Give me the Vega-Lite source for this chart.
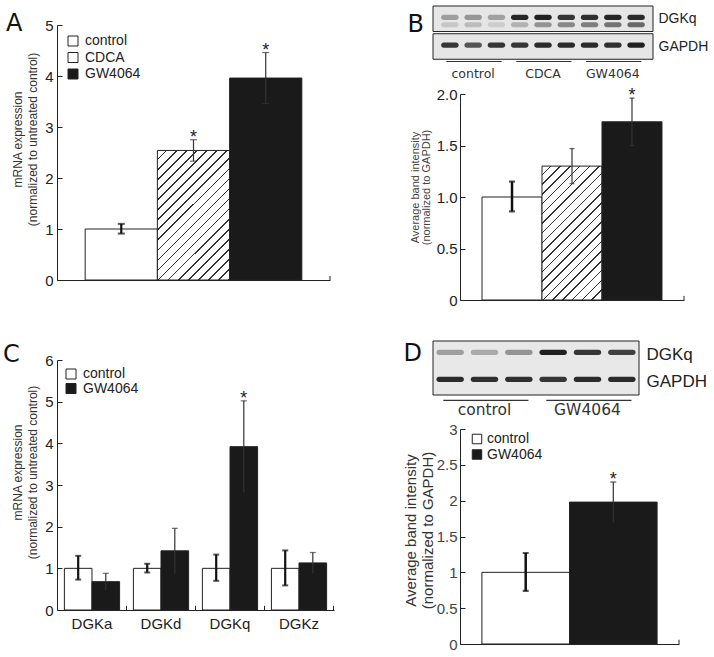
{
  "$schema": "https://vega.github.io/schema/vega-lite/v6.json",
  "padding": {"left": 3, "top": 5, "right": 2, "bottom": 2},
  "config": {
    "view": {"stroke": null},
    "font": "Liberation Sans",
    "axis": {"grid": false, "domainColor": "#222", "tickColor": "#222", "labelColor": "#222", "titleColor": "#333", "titleFontWeight": "normal", "labelFont": "Liberation Sans", "titleFont": "Liberation Sans", "labelOverlap": false},
    "title": {"font": "DejaVu Sans", "fontWeight": "normal", "color": "#111", "fontSize": 24}
  },
  "resolve": {"scale": {"fill": "independent", "opacity": "independent"}, "legend": {"fill": "independent"}},
  "spacing": 68,
  "hconcat": [
    {
      "spacing": 55,
      "resolve": {"scale": {"fill": "independent", "opacity": "independent"}, "legend": {"fill": "independent"}},
      "vconcat": [
        {
          "spacing": 0,
          "resolve": {"scale": {"fill": "independent"}, "legend": {"fill": "independent"}},
          "vconcat": [
            {"width": 1, "height": 6, "data": {"values": []}, "mark": "point"},
            {
              "width": 273, "height": 255,
              "title": {"text": "A", "orient": "top", "anchor": "start", "frame": "group", "dx": -51, "dy": 18, "align": "left", "offset": 0},
              "data": {"values": [
                {"t": "control", "v": 1.0, "lo": 0.91, "hi": 1.1, "sig": ""},
                {"t": "CDCA", "v": 2.54, "lo": 2.33, "hi": 2.75, "sig": "*"},
                {"t": "GW4064", "v": 3.96, "lo": 3.46, "hi": 4.46, "sig": "*"}
              ]},
              "encoding": {"x": {"field": "t", "type": "nominal", "sort": null, "scale": {"domain": ["control", "CDCA", "GW4064"], "paddingInner": 0, "paddingOuter": 0.39}, "axis": {"title": null, "labels": false, "ticks": false}}},
              "layer": [
                {"mark": {"type": "bar", "stroke": "#222", "strokeWidth": 1},
                 "encoding": {
                   "y": {"field": "v", "type": "quantitative", "stack": null, "scale": {"domain": [0, 5], "nice": false},
                         "axis": {"values": [0, 1, 2, 3, 4, 5], "format": "d", "tickSize": -5, "labelPadding": 9, "labelFontSize": 15, "labelOverlap": false,
                                  "title": ["mRNA expression", "(normalized to untreated control)"], "titleFontSize": 12, "titleLineHeight": 15, "titlePadding": 5, "titleY": 114}},
                   "fill": {"field": "t", "type": "nominal",
                            "scale": {"domain": ["control", "CDCA", "GW4064"], "range": ["white", "white", "#1a1a1a"]},
                            "condition": {"test": "datum.t === 'CDCA'", "value": {"gradient": "linear", "x1": 0, "y1": 0, "x2": 0.661, "y2": 1.188, "stops": [{"offset":0,"color":"#fff"},{"offset":0.042,"color":"#fff"},{"offset":0.042,"color":"#333"},{"offset":0.05,"color":"#333"},{"offset":0.05,"color":"#fff"},{"offset":0.092,"color":"#fff"},{"offset":0.092,"color":"#333"},{"offset":0.1,"color":"#333"},{"offset":0.1,"color":"#fff"},{"offset":0.142,"color":"#fff"},{"offset":0.142,"color":"#333"},{"offset":0.15,"color":"#333"},{"offset":0.15,"color":"#fff"},{"offset":0.192,"color":"#fff"},{"offset":0.192,"color":"#333"},{"offset":0.2,"color":"#333"},{"offset":0.2,"color":"#fff"},{"offset":0.242,"color":"#fff"},{"offset":0.242,"color":"#333"},{"offset":0.25,"color":"#333"},{"offset":0.25,"color":"#fff"},{"offset":0.292,"color":"#fff"},{"offset":0.292,"color":"#333"},{"offset":0.3,"color":"#333"},{"offset":0.3,"color":"#fff"},{"offset":0.342,"color":"#fff"},{"offset":0.342,"color":"#333"},{"offset":0.35,"color":"#333"},{"offset":0.35,"color":"#fff"},{"offset":0.392,"color":"#fff"},{"offset":0.392,"color":"#333"},{"offset":0.4,"color":"#333"},{"offset":0.4,"color":"#fff"},{"offset":0.442,"color":"#fff"},{"offset":0.442,"color":"#333"},{"offset":0.45,"color":"#333"},{"offset":0.45,"color":"#fff"},{"offset":0.492,"color":"#fff"},{"offset":0.492,"color":"#333"},{"offset":0.5,"color":"#333"},{"offset":0.5,"color":"#fff"},{"offset":0.542,"color":"#fff"},{"offset":0.542,"color":"#333"},{"offset":0.55,"color":"#333"},{"offset":0.55,"color":"#fff"},{"offset":0.592,"color":"#fff"},{"offset":0.592,"color":"#333"},{"offset":0.6,"color":"#333"},{"offset":0.6,"color":"#fff"},{"offset":0.642,"color":"#fff"},{"offset":0.642,"color":"#333"},{"offset":0.65,"color":"#333"},{"offset":0.65,"color":"#fff"},{"offset":0.692,"color":"#fff"},{"offset":0.692,"color":"#333"},{"offset":0.7,"color":"#333"},{"offset":0.7,"color":"#fff"},{"offset":0.742,"color":"#fff"},{"offset":0.742,"color":"#333"},{"offset":0.75,"color":"#333"},{"offset":0.75,"color":"#fff"},{"offset":0.792,"color":"#fff"},{"offset":0.792,"color":"#333"},{"offset":0.8,"color":"#333"},{"offset":0.8,"color":"#fff"},{"offset":0.842,"color":"#fff"},{"offset":0.842,"color":"#333"},{"offset":0.85,"color":"#333"},{"offset":0.85,"color":"#fff"},{"offset":0.892,"color":"#fff"},{"offset":0.892,"color":"#333"},{"offset":0.9,"color":"#333"},{"offset":0.9,"color":"#fff"},{"offset":0.942,"color":"#fff"},{"offset":0.942,"color":"#333"},{"offset":0.95,"color":"#333"},{"offset":0.95,"color":"#fff"},{"offset":0.992,"color":"#fff"},{"offset":0.992,"color":"#333"},{"offset":1,"color":"#333"}]}},
                            "legend": {"title": null, "orient": "top-left", "offset": 9, "padding": 0, "symbolType": "square", "symbolSize": 100, "symbolStrokeColor": "#222", "symbolStrokeWidth": 1, "labelFontSize": 14, "labelColor": "#222", "labelOffset": 5, "rowPadding": 2.5}}
                 }},
                {"transform": [{"filter": "datum.t === 'control'"}], "layer": [
                  {"mark": {"type": "rule", "strokeWidth": 2.2, "color": "#111"}, "encoding": {"y": {"field": "lo", "type": "quantitative"}, "y2": {"field": "hi"}}},
                  {"mark": {"type": "tick", "size": 7, "thickness": 2, "color": "#111"}, "encoding": {"y": {"field": "lo", "type": "quantitative"}}},
                  {"mark": {"type": "tick", "size": 7, "thickness": 2, "color": "#111"}, "encoding": {"y": {"field": "hi", "type": "quantitative"}}}
                ]},
                {"transform": [{"filter": "datum.t !== 'control'"}], "layer": [
                  {"mark": {"type": "rule", "strokeWidth": 1.2, "color": "#333"}, "encoding": {"y": {"field": "lo", "type": "quantitative"}, "y2": {"field": "hi"}}},
                  {"mark": {"type": "tick", "size": 7, "thickness": 1.2, "color": "#333"}, "encoding": {"y": {"field": "lo", "type": "quantitative"}}},
                  {"mark": {"type": "tick", "size": 7, "thickness": 1.2, "color": "#333"}, "encoding": {"y": {"field": "hi", "type": "quantitative"}}}
                ]},
                {"mark": {"type": "text", "fontSize": 18, "dy": 3, "baseline": "alphabetic", "color": "#222"}, "encoding": {"y": {"field": "hi", "type": "quantitative"}, "text": {"field": "sig", "type": "nominal"}}},
                {"transform": [{"filter": "datum.t === 'GW4064'"}], "mark": {"type": "rule", "color": "#222"}, "encoding": {"x": {"field": "t", "type": "nominal", "bandPosition": 1.39}, "y": {"datum": 0}, "y2": {"datum": 0.08}}}
              ]
            }
          ]
        },
        {
          "width": 277, "height": 250,
          "title": {"text": "C", "orient": "top", "anchor": "start", "frame": "group", "dx": -54, "dy": 14, "align": "left", "offset": 0},
          "data": {"values": [
            {"g": "DGKa", "t": "control", "v": 1.0, "lo": 0.73, "hi": 1.3, "sig": ""},
            {"g": "DGKa", "t": "GW4064", "v": 0.68, "lo": 0.48, "hi": 0.88, "sig": ""},
            {"g": "DGKd", "t": "control", "v": 1.0, "lo": 0.9, "hi": 1.11, "sig": ""},
            {"g": "DGKd", "t": "GW4064", "v": 1.42, "lo": 0.87, "hi": 1.96, "sig": ""},
            {"g": "DGKq", "t": "control", "v": 1.0, "lo": 0.7, "hi": 1.33, "sig": ""},
            {"g": "DGKq", "t": "GW4064", "v": 3.92, "lo": 2.82, "hi": 5.02, "sig": "*"},
            {"g": "DGKz", "t": "control", "v": 1.0, "lo": 0.59, "hi": 1.43, "sig": ""},
            {"g": "DGKz", "t": "GW4064", "v": 1.13, "lo": 0.88, "hi": 1.38, "sig": ""}
          ]},
          "layer": [
            {"mark": {"type": "bar", "stroke": "#222", "strokeWidth": 1},
             "encoding": {
               "x": {"field": "g", "type": "nominal", "sort": null, "scale": {"domain": ["DGKa", "DGKd", "DGKq", "DGKz"], "paddingInner": 0.2, "paddingOuter": 0.107},
                     "axis": {"title": null, "ticks": false, "labelAngle": 0, "labelFontSize": 15, "labelPadding": 6}},
               "xOffset": {"field": "t", "type": "nominal", "scale": {"domain": ["control", "GW4064"], "paddingInner": 0, "paddingOuter": 0}},
               "y": {"field": "v", "type": "quantitative", "stack": null, "scale": {"domain": [0, 6], "nice": false},
                     "axis": {"values": [0, 1, 2, 3, 4, 5, 6], "format": "d", "tickSize": -5, "labelPadding": 9, "labelFontSize": 15, "labelOverlap": false,
                              "title": ["mRNA expression", "(normalized to untreated control)"], "titleFontSize": 12, "titleLineHeight": 15, "titlePadding": 5, "titleY": 112}},
               "fill": {"field": "t", "type": "nominal", "scale": {"domain": ["control", "GW4064"], "range": ["white", "#1a1a1a"]},
                        "legend": {"title": null, "orient": "top-left", "offset": 7, "padding": 0, "symbolType": "square", "symbolSize": 100, "symbolStrokeColor": "#222", "symbolStrokeWidth": 1, "labelFontSize": 14, "labelColor": "#222", "labelOffset": 5, "rowPadding": 0.5}}
             }},
            {"transform": [{"filter": "datum.t === 'control'"}], "encoding": {"x": {"field": "g", "type": "nominal"}, "xOffset": {"field": "t", "type": "nominal"}}, "layer": [
              {"mark": {"type": "rule", "strokeWidth": 2.2, "color": "#111"}, "encoding": {"y": {"field": "lo", "type": "quantitative"}, "y2": {"field": "hi"}}},
              {"mark": {"type": "tick", "size": 6, "thickness": 2, "color": "#111"}, "encoding": {"y": {"field": "lo", "type": "quantitative"}}},
              {"mark": {"type": "tick", "size": 6, "thickness": 2, "color": "#111"}, "encoding": {"y": {"field": "hi", "type": "quantitative"}}}
            ]},
            {"transform": [{"filter": "datum.t !== 'control'"}], "encoding": {"x": {"field": "g", "type": "nominal"}, "xOffset": {"field": "t", "type": "nominal"}}, "layer": [
              {"mark": {"type": "rule", "strokeWidth": 1.2, "color": "#333"}, "encoding": {"y": {"field": "lo", "type": "quantitative"}, "y2": {"field": "hi"}}},
              {"mark": {"type": "tick", "size": 6, "thickness": 1.2, "color": "#333"}, "encoding": {"y": {"field": "hi", "type": "quantitative"}}},
              {"mark": {"type": "text", "fontSize": 18, "dy": 3, "baseline": "alphabetic", "color": "#222"}, "encoding": {"y": {"field": "hi", "type": "quantitative"}, "text": {"field": "sig", "type": "nominal"}}}
            ]},
            {"transform": [{"filter": "datum.t === 'control'"}], "mark": {"type": "rule", "color": "#222"}, "encoding": {"x": {"field": "g", "type": "nominal", "bandPosition": 1.125}, "y": {"datum": 0}, "y2": {"datum": 0.1}}}
          ]
        }
      ]
    },
    {
      "spacing": 32,
      "resolve": {"scale": {"fill": "independent", "opacity": "independent"}, "legend": {"fill": "independent"}},
      "vconcat": [
        {
          "spacing": 0,
          "resolve": {"scale": {"fill": "independent", "opacity": "independent"}, "legend": {"fill": "independent"}},
          "vconcat": [
            {
              "width": 220, "height": 81,
              "title": {"text": "B", "orient": "left", "angle": 0, "align": "right", "baseline": "top", "anchor": "end", "offset": -8, "dy": 7},
              "layer": [
                {"data": {"values": [{"protein": "DGKq"}, {"protein": "GAPDH"}]},
                 "mark": {"type": "rect", "fill": "#e6e6e6", "stroke": "#222", "strokeWidth": 1},
                 "encoding": {"y": {"field": "protein", "type": "nominal", "scale": {"domain": ["DGKq", "GAPDH", "groups"], "paddingInner": 0.08, "paddingOuter": 0},
                                    "axis": {"orient": "right", "title": null, "domain": false, "ticks": false, "labelPadding": 5, "labelFontSize": 14, "labelColor": "#222", "labelExpr": "datum.value == 'groups' ? '' : datum.value"}}}},
                {"data": {"values": [
                  {"lane": "c1", "protein": "DGKq", "sub": "main", "intensity": 0.35},
                  {"lane": "c2", "protein": "DGKq", "sub": "main", "intensity": 0.38},
                  {"lane": "c3", "protein": "DGKq", "sub": "main", "intensity": 0.33},
                  {"lane": "d1", "protein": "DGKq", "sub": "main", "intensity": 0.92},
                  {"lane": "d2", "protein": "DGKq", "sub": "main", "intensity": 0.95},
                  {"lane": "d3", "protein": "DGKq", "sub": "main", "intensity": 0.85},
                  {"lane": "g1", "protein": "DGKq", "sub": "main", "intensity": 0.88},
                  {"lane": "g2", "protein": "DGKq", "sub": "main", "intensity": 0.92},
                  {"lane": "g3", "protein": "DGKq", "sub": "main", "intensity": 0.9},
                  {"lane": "c1", "protein": "DGKq", "sub": "lower", "intensity": 0.15},
                  {"lane": "c2", "protein": "DGKq", "sub": "lower", "intensity": 0.2},
                  {"lane": "c3", "protein": "DGKq", "sub": "lower", "intensity": 0.12},
                  {"lane": "d1", "protein": "DGKq", "sub": "lower", "intensity": 0.25},
                  {"lane": "d2", "protein": "DGKq", "sub": "lower", "intensity": 0.4},
                  {"lane": "d3", "protein": "DGKq", "sub": "lower", "intensity": 0.45},
                  {"lane": "g1", "protein": "DGKq", "sub": "lower", "intensity": 0.5},
                  {"lane": "g2", "protein": "DGKq", "sub": "lower", "intensity": 0.55},
                  {"lane": "g3", "protein": "DGKq", "sub": "lower", "intensity": 0.6},
                  {"lane": "c1", "protein": "GAPDH", "sub": "main", "intensity": 0.85},
                  {"lane": "c2", "protein": "GAPDH", "sub": "main", "intensity": 0.7},
                  {"lane": "c3", "protein": "GAPDH", "sub": "main", "intensity": 0.85},
                  {"lane": "d1", "protein": "GAPDH", "sub": "main", "intensity": 0.85},
                  {"lane": "d2", "protein": "GAPDH", "sub": "main", "intensity": 0.9},
                  {"lane": "d3", "protein": "GAPDH", "sub": "main", "intensity": 0.9},
                  {"lane": "g1", "protein": "GAPDH", "sub": "main", "intensity": 0.9},
                  {"lane": "g2", "protein": "GAPDH", "sub": "main", "intensity": 0.88},
                  {"lane": "g3", "protein": "GAPDH", "sub": "main", "intensity": 0.95}
                 ]},
                 "mark": {"type": "rect", "fill": "#161616", "cornerRadius": 2.5},
                 "encoding": {
                   "x": {"field": "lane", "type": "nominal", "scale": {"domain": ["c1", "c2", "c3", "d1", "d2", "d3", "g1", "g2", "g3"], "paddingInner": 0.25, "paddingOuter": 0.35}, "axis": null},
                   "y": {"field": "protein", "type": "nominal"},
                   "yOffset": {"field": "sub", "type": "nominal", "scale": {"domain": ["main", "lower"], "paddingInner": 0.3, "paddingOuter": 0.9, "align": 0.675}},
                   "opacity": {"field": "intensity", "type": "quantitative", "scale": {"domain": [0, 1], "range": [0, 1]}, "legend": null}
                 }},
                {"data": {"values": [
                  {"g": "control", "first": "c1", "mid": "c2", "last": "c3", "row": "groups"},
                  {"g": "CDCA", "first": "d1", "mid": "d2", "last": "d3", "row": "groups"},
                  {"g": "GW4064", "first": "g1", "mid": "g2", "last": "g3", "row": "groups"}
                 ]},
                 "layer": [
                   {"mark": {"type": "rule", "color": "#333", "strokeWidth": 1.2},
                    "encoding": {"x": {"field": "first", "type": "nominal", "bandPosition": 0.3}, "x2": {"field": "last", "bandPosition": 0.8}, "y": {"field": "row", "type": "nominal", "bandPosition": 0}}},
                   {"mark": {"type": "text", "font": "DejaVu Sans", "fontSize": 12.5, "color": "#333"},
                    "encoding": {"x": {"field": "mid", "type": "nominal"}, "y": {"field": "row", "type": "nominal"}, "text": {"field": "g", "type": "nominal"}}}
                 ]}
              ]
            },
            {
              "spacing": 0, "bounds": "flush",
              "hconcat": [
                {"width": 27, "height": 1, "data": {"values": []}, "mark": "point"},
                {
                  "width": 224, "height": 206,
                  "data": {"values": [
                    {"t": "control", "v": 1.0, "lo": 0.86, "hi": 1.15, "sig": ""},
                    {"t": "CDCA", "v": 1.3, "lo": 1.13, "hi": 1.47, "sig": ""},
                    {"t": "GW4064", "v": 1.73, "lo": 1.5, "hi": 1.96, "sig": "*"}
                  ]},
                  "encoding": {"x": {"field": "t", "type": "nominal", "sort": null, "scale": {"domain": ["control", "CDCA", "GW4064"], "paddingInner": 0, "paddingOuter": 0.367}, "axis": {"title": null, "labels": false, "ticks": false}}},
                  "layer": [
                    {"mark": {"type": "bar", "stroke": "#222", "strokeWidth": 1},
                     "encoding": {
                       "y": {"field": "v", "type": "quantitative", "stack": null, "scale": {"domain": [0, 2], "nice": false},
                             "axis": {"values": [0, 0.5, 1, 1.5, 2], "labelExpr": "datum.value == 0 ? '0' : format(datum.value, '.1f')", "tickSize": -5, "labelPadding": 8, "labelFontSize": 15, "labelOverlap": false,
                                      "title": ["Average band intensity", "(normalized to GAPDH)"], "titleFontSize": 11, "titleLineHeight": 11, "titlePadding": 5, "titleColor": "#444", "titleY": 93}},
                       "fill": {"field": "t", "type": "nominal", "legend": null,
                                "scale": {"domain": ["control", "CDCA", "GW4064"], "range": ["white", "white", "#1a1a1a"]},
                                "condition": {"test": "datum.t === 'CDCA'", "value": {"gradient": "linear", "x1": 0, "y1": 0, "x2": 0.54, "y2": 1.206, "stops": [{"offset":0,"color":"#fff"},{"offset":0.042,"color":"#fff"},{"offset":0.042,"color":"#333"},{"offset":0.05,"color":"#333"},{"offset":0.05,"color":"#fff"},{"offset":0.092,"color":"#fff"},{"offset":0.092,"color":"#333"},{"offset":0.1,"color":"#333"},{"offset":0.1,"color":"#fff"},{"offset":0.142,"color":"#fff"},{"offset":0.142,"color":"#333"},{"offset":0.15,"color":"#333"},{"offset":0.15,"color":"#fff"},{"offset":0.192,"color":"#fff"},{"offset":0.192,"color":"#333"},{"offset":0.2,"color":"#333"},{"offset":0.2,"color":"#fff"},{"offset":0.242,"color":"#fff"},{"offset":0.242,"color":"#333"},{"offset":0.25,"color":"#333"},{"offset":0.25,"color":"#fff"},{"offset":0.292,"color":"#fff"},{"offset":0.292,"color":"#333"},{"offset":0.3,"color":"#333"},{"offset":0.3,"color":"#fff"},{"offset":0.342,"color":"#fff"},{"offset":0.342,"color":"#333"},{"offset":0.35,"color":"#333"},{"offset":0.35,"color":"#fff"},{"offset":0.392,"color":"#fff"},{"offset":0.392,"color":"#333"},{"offset":0.4,"color":"#333"},{"offset":0.4,"color":"#fff"},{"offset":0.442,"color":"#fff"},{"offset":0.442,"color":"#333"},{"offset":0.45,"color":"#333"},{"offset":0.45,"color":"#fff"},{"offset":0.492,"color":"#fff"},{"offset":0.492,"color":"#333"},{"offset":0.5,"color":"#333"},{"offset":0.5,"color":"#fff"},{"offset":0.542,"color":"#fff"},{"offset":0.542,"color":"#333"},{"offset":0.55,"color":"#333"},{"offset":0.55,"color":"#fff"},{"offset":0.592,"color":"#fff"},{"offset":0.592,"color":"#333"},{"offset":0.6,"color":"#333"},{"offset":0.6,"color":"#fff"},{"offset":0.642,"color":"#fff"},{"offset":0.642,"color":"#333"},{"offset":0.65,"color":"#333"},{"offset":0.65,"color":"#fff"},{"offset":0.692,"color":"#fff"},{"offset":0.692,"color":"#333"},{"offset":0.7,"color":"#333"},{"offset":0.7,"color":"#fff"},{"offset":0.742,"color":"#fff"},{"offset":0.742,"color":"#333"},{"offset":0.75,"color":"#333"},{"offset":0.75,"color":"#fff"},{"offset":0.792,"color":"#fff"},{"offset":0.792,"color":"#333"},{"offset":0.8,"color":"#333"},{"offset":0.8,"color":"#fff"},{"offset":0.842,"color":"#fff"},{"offset":0.842,"color":"#333"},{"offset":0.85,"color":"#333"},{"offset":0.85,"color":"#fff"},{"offset":0.892,"color":"#fff"},{"offset":0.892,"color":"#333"},{"offset":0.9,"color":"#333"},{"offset":0.9,"color":"#fff"},{"offset":0.942,"color":"#fff"},{"offset":0.942,"color":"#333"},{"offset":0.95,"color":"#333"},{"offset":0.95,"color":"#fff"},{"offset":0.992,"color":"#fff"},{"offset":0.992,"color":"#333"},{"offset":1,"color":"#333"}]}}}
                     }},
                    {"transform": [{"filter": "datum.t === 'control'"}], "layer": [
                      {"mark": {"type": "rule", "strokeWidth": 2.5, "color": "#111"}, "encoding": {"y": {"field": "lo", "type": "quantitative"}, "y2": {"field": "hi"}}},
                      {"mark": {"type": "tick", "size": 6, "thickness": 2.2, "color": "#111"}, "encoding": {"y": {"field": "lo", "type": "quantitative"}}},
                      {"mark": {"type": "tick", "size": 6, "thickness": 2.2, "color": "#111"}, "encoding": {"y": {"field": "hi", "type": "quantitative"}}}
                    ]},
                    {"transform": [{"filter": "datum.t !== 'control'"}], "layer": [
                      {"mark": {"type": "rule", "strokeWidth": 1.2, "color": "#333"}, "encoding": {"y": {"field": "lo", "type": "quantitative"}, "y2": {"field": "hi"}}},
                      {"mark": {"type": "tick", "size": 5, "thickness": 1.4, "color": "#333"}, "encoding": {"y": {"field": "lo", "type": "quantitative"}}},
                      {"mark": {"type": "tick", "size": 5, "thickness": 1.4, "color": "#333"}, "encoding": {"y": {"field": "hi", "type": "quantitative"}}}
                    ]},
                    {"mark": {"type": "text", "fontSize": 18, "dy": 3, "baseline": "alphabetic", "color": "#222"}, "encoding": {"y": {"field": "hi", "type": "quantitative"}, "text": {"field": "sig", "type": "nominal"}}},
                    {"transform": [{"filter": "datum.t === 'GW4064'"}], "mark": {"type": "rule", "color": "#222"}, "encoding": {"x": {"field": "t", "type": "nominal", "bandPosition": 1.367}, "y": {"datum": 0}, "y2": {"datum": 0.04}}}
                  ]
                }
              ]
            }
          ]
        },
        {
          "spacing": 0,
          "resolve": {"scale": {"fill": "independent", "opacity": "independent"}, "legend": {"fill": "independent"}},
          "vconcat": [
            {
              "width": 206, "height": 81,
              "title": {"text": "D", "orient": "left", "angle": 0, "align": "right", "baseline": "top", "anchor": "end", "offset": -8, "dy": 1},
              "layer": [
                {"data": {"values": [{"p1": "DGKq", "p2": "GAPDH"}]},
                 "mark": {"type": "rect", "fill": "#e8e8e8", "stroke": "#222", "strokeWidth": 1},
                 "encoding": {"y": {"field": "p1", "type": "nominal", "bandPosition": 0, "scale": {"domain": ["DGKq", "GAPDH", "groups"], "paddingInner": 0, "paddingOuter": 0},
                                    "axis": {"orient": "right", "title": null, "domain": false, "ticks": false, "labelPadding": 7, "labelFontSize": 17, "labelColor": "#222", "labelExpr": "datum.value == 'groups' ? '' : datum.value"}},
                              "y2": {"field": "p2", "bandPosition": 1}}},
                {"data": {"values": [
                  {"lane": "c1", "protein": "DGKq", "sub": "main", "intensity": 0.35},
                  {"lane": "c2", "protein": "DGKq", "sub": "main", "intensity": 0.3},
                  {"lane": "c3", "protein": "DGKq", "sub": "main", "intensity": 0.4},
                  {"lane": "g1", "protein": "DGKq", "sub": "main", "intensity": 0.95},
                  {"lane": "g2", "protein": "DGKq", "sub": "main", "intensity": 0.85},
                  {"lane": "g3", "protein": "DGKq", "sub": "main", "intensity": 0.8},
                  {"lane": "c1", "protein": "GAPDH", "sub": "main", "intensity": 0.9},
                  {"lane": "c2", "protein": "GAPDH", "sub": "main", "intensity": 0.88},
                  {"lane": "c3", "protein": "GAPDH", "sub": "main", "intensity": 0.88},
                  {"lane": "g1", "protein": "GAPDH", "sub": "main", "intensity": 0.85},
                  {"lane": "g2", "protein": "GAPDH", "sub": "main", "intensity": 0.9},
                  {"lane": "g3", "protein": "GAPDH", "sub": "main", "intensity": 0.9}
                 ]},
                 "mark": {"type": "rect", "fill": "#161616", "cornerRadius": 3},
                 "encoding": {
                   "x": {"field": "lane", "type": "nominal", "scale": {"domain": ["c1", "c2", "c3", "g1", "g2", "g3"], "paddingInner": 0.2, "paddingOuter": 0.1}, "axis": null},
                   "y": {"field": "protein", "type": "nominal"},
                   "yOffset": {"field": "sub", "type": "nominal", "scale": {"domain": ["main"], "paddingInner": 0, "paddingOuter": 1.43, "align": 0.55}},
                   "opacity": {"field": "intensity", "type": "quantitative", "scale": {"domain": [0, 1], "range": [0, 1]}, "legend": null}
                 }},
                {"data": {"values": [
                  {"g": "control", "first": "c1", "mid": "c2", "last": "c3", "row": "groups"},
                  {"g": "GW4064", "first": "g1", "mid": "g2", "last": "g3", "row": "groups"}
                 ]},
                 "layer": [
                   {"mark": {"type": "rule", "color": "#333", "strokeWidth": 1.2},
                    "encoding": {"x": {"field": "first", "type": "nominal", "bandPosition": 0.25}, "x2": {"field": "last", "bandPosition": 0.85}, "y": {"field": "row", "type": "nominal", "bandPosition": 0.2}}},
                   {"mark": {"type": "text", "font": "DejaVu Sans", "fontSize": 15.5, "color": "#333"},
                    "encoding": {"x": {"field": "mid", "type": "nominal"}, "y": {"field": "row", "type": "nominal", "bandPosition": 0.55}, "text": {"field": "g", "type": "nominal"}}}
                 ]}
              ]
            },
            {
              "spacing": 0, "bounds": "flush",
              "hconcat": [
                {"width": 27, "height": 1, "data": {"values": []}, "mark": "point"},
                {
                  "width": 219, "height": 215,
                  "data": {"values": [
                    {"t": "control", "v": 1.0, "lo": 0.74, "hi": 1.27, "sig": ""},
                    {"t": "GW4064", "v": 1.98, "lo": 1.7, "hi": 2.26, "sig": "*"}
                  ]},
                  "encoding": {"x": {"field": "t", "type": "nominal", "sort": null, "scale": {"domain": ["control", "GW4064"], "paddingInner": 0, "paddingOuter": 0.25}, "axis": {"title": null, "labels": false, "ticks": false}}},
                  "layer": [
                    {"mark": {"type": "bar", "stroke": "#222", "strokeWidth": 1},
                     "encoding": {
                       "y": {"field": "v", "type": "quantitative", "stack": null, "scale": {"domain": [0, 3], "nice": false},
                             "axis": {"values": [0, 0.5, 1, 1.5, 2, 2.5, 3], "tickCount": 7, "labelExpr": "format(datum.value, '~g')", "labelOverlap": false, "labelSeparation": 0, "tickSize": -5, "labelPadding": 8, "labelFontSize": 15, "labelColor": "#444",
                                      "title": ["Average band intensity", "(normalized to GAPDH)"], "titleFontSize": 15, "titleLineHeight": 17, "titlePadding": 1, "titleColor": "#333", "titleY": 101}},
                       "fill": {"field": "t", "type": "nominal", "scale": {"domain": ["control", "GW4064"], "range": ["white", "#1a1a1a"]},
                                "legend": {"title": null, "orient": "none", "legendX": 37, "legendY": 3, "padding": 0, "symbolType": "square", "symbolSize": 90, "symbolStrokeColor": "#222", "symbolStrokeWidth": 1, "labelFontSize": 14, "labelColor": "#222", "labelOffset": 3, "rowPadding": 1.5}}
                     }},
                    {"transform": [{"filter": "datum.t === 'control'"}], "layer": [
                      {"mark": {"type": "rule", "strokeWidth": 2.5, "color": "#111"}, "encoding": {"y": {"field": "lo", "type": "quantitative"}, "y2": {"field": "hi"}}},
                      {"mark": {"type": "tick", "size": 6, "thickness": 2.2, "color": "#111"}, "encoding": {"y": {"field": "lo", "type": "quantitative"}}},
                      {"mark": {"type": "tick", "size": 6, "thickness": 2.2, "color": "#111"}, "encoding": {"y": {"field": "hi", "type": "quantitative"}}}
                    ]},
                    {"transform": [{"filter": "datum.t !== 'control'"}], "layer": [
                      {"mark": {"type": "rule", "strokeWidth": 1.2, "color": "#333"}, "encoding": {"y": {"field": "lo", "type": "quantitative"}, "y2": {"field": "hi"}}},
                      {"mark": {"type": "tick", "size": 6, "thickness": 1.4, "color": "#333"}, "encoding": {"y": {"field": "hi", "type": "quantitative"}}}
                    ]},
                    {"mark": {"type": "text", "fontSize": 18, "dy": 3, "baseline": "alphabetic", "color": "#222"}, "encoding": {"y": {"field": "hi", "type": "quantitative"}, "text": {"field": "sig", "type": "nominal"}}},
                    {"transform": [{"filter": "datum.t === 'GW4064'"}], "mark": {"type": "rule", "color": "#222"}, "encoding": {"x": {"field": "t", "type": "nominal", "bandPosition": 1.25}, "y": {"datum": 0}, "y2": {"datum": 0.06}}}
                  ]
                }
              ]
            }
          ]
        }
      ]
    }
  ]
}
